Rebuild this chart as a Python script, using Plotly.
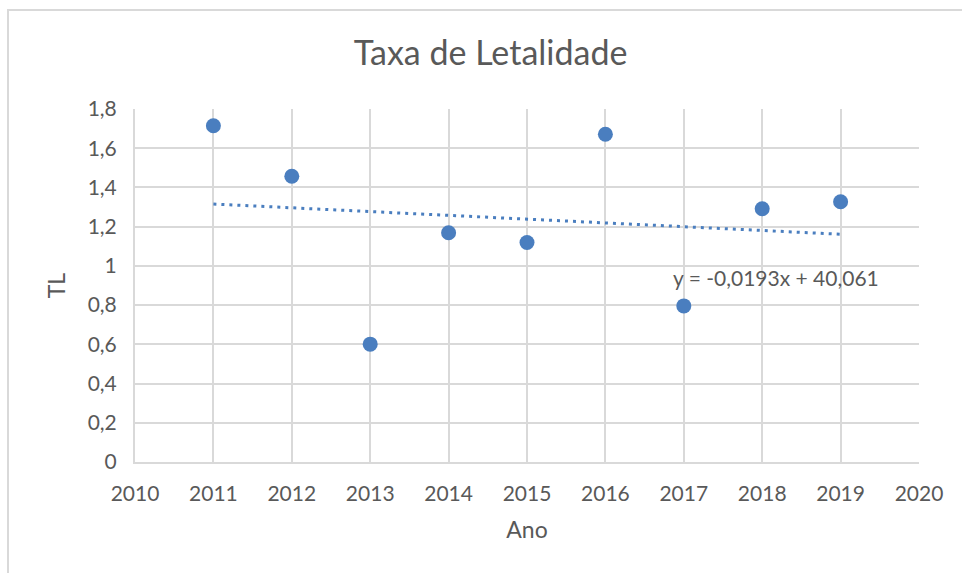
import numpy as np
import plotly.graph_objects as go

# Taxa de letalidade por ano
anos = [2011, 2012, 2013, 2014, 2015, 2016, 2017, 2018, 2019]
tl = [1.7145, 1.457, 0.601, 1.169, 1.119, 1.671, 0.796, 1.291, 1.327]

y_ticks = [0, 0.2, 0.4, 0.6, 0.8, 1.0, 1.2, 1.4, 1.6, 1.8]
x_ticks = list(range(2010, 2021))

# Linear trend (least squares)
slope, intercept = np.polyfit(anos, tl, 1)
trend_x = [anos[0], anos[-1]]
trend_y = [slope * x + intercept for x in trend_x]
eq_text = f"y = {slope:.4f}x + {intercept:.3f}".replace(".", ",")

BLUE = "#4a7ebf"
GRID = "#d9d9d9"
TXT = "#595959"
FONT = "Lato"

fig = go.Figure()
fig.add_trace(go.Scatter(
    x=trend_x, y=trend_y, mode="lines",
    line=dict(color=BLUE, width=3, dash="3px,5px"),
    hoverinfo="skip", showlegend=False,
))
fig.add_trace(go.Scatter(
    x=anos, y=tl, mode="markers",
    marker=dict(color=BLUE, size=15),
    showlegend=False,
))

fig.add_annotation(
    x=2018.17, y=0.94, xref="x", yref="y", text=eq_text, showarrow=False,
    font=dict(family=FONT, size=21, color=TXT),
)

L, R, T, B = 135, 43, 109, 111
W, H = 962, 573
pw, ph = W - L - R, H - T - B


def px(x):
    return (x - L) / pw


def py(y):
    return (H - B - y) / ph


# chart frame
fig.add_shape(type="line", xref="paper", yref="paper",
              x0=px(7), x1=px(970), y0=py(10), y1=py(10),
              line=dict(color=GRID, width=2))
fig.add_shape(type="line", xref="paper", yref="paper",
              x0=px(8), x1=px(8), y0=py(10), y1=py(580),
              line=dict(color=GRID, width=2))

fig.update_layout(
    width=W, height=H,
    margin=dict(l=L, r=R, t=T, b=B),
    paper_bgcolor="white", plot_bgcolor="white",
    separators=", ",
    font=dict(family=FONT, color=TXT, size=21),
    title=dict(text="Taxa de Letalidade", x=0.51, xanchor="center",
               y=1 - 53 / H, yanchor="middle",
               font=dict(family=FONT, size=34, color=TXT)),
    xaxis=dict(
        range=[2010, 2020], tickvals=x_ticks, ticktext=[str(v) for v in x_ticks],
        showgrid=True, gridcolor=GRID, gridwidth=2,
        showline=True, linecolor=GRID, linewidth=2, mirror=False,
        zeroline=False, ticks="", ticklabelstandoff=12,
        tickfont=dict(family=FONT, size=21, color=TXT),
        title=dict(text="Ano", font=dict(family=FONT, size=23, color=TXT), standoff=18),
    ),
    yaxis=dict(
        range=[0, 1.8], tickvals=y_ticks,
        showgrid=True, gridcolor=GRID, gridwidth=2,
        showline=True, linecolor=GRID, linewidth=2,
        zeroline=False, ticks="", ticklabelstandoff=12,
        tickfont=dict(family=FONT, size=21, color=TXT),
        title=dict(text="TL", font=dict(family=FONT, size=23, color=TXT), standoff=16),
    ),
)

fig.write_html("out.html")
